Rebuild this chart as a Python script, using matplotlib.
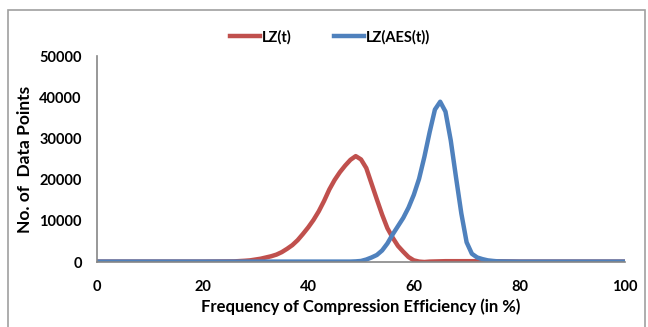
import numpy as np
import matplotlib.pyplot as plt
from matplotlib.patches import Rectangle

# data (percent, count)
x_red = [0, 10, 20, 26, 28, 29, 30, 31, 32, 33, 34, 35, 36, 37, 38, 39, 40, 41, 42, 43, 44, 45,
         46, 47, 48, 49, 50, 51, 52, 53, 54, 55, 56, 57, 58, 59, 60, 61, 62, 63, 66, 70, 75, 80,
         90, 100]
lz_t = [100, 100, 100, 150, 300, 400, 600, 800, 1100, 1400, 1800, 2400, 3200, 4100, 5300, 6800,
        8400, 10200, 12300, 14800, 17600, 19900, 21800, 23400, 24800, 25700, 24900, 22800, 19000,
        15200, 11500, 8200, 5900, 3900, 2500, 1200, 400, 100, 0, 100, 200, 200, 200, 100, 100, 100]

x_blue = [0, 10, 20, 30, 40, 46, 48, 49, 50, 51, 52, 53, 54, 55, 56, 57, 58, 59, 60, 61, 62, 63,
          64, 65, 66, 67, 68, 69, 70, 71, 72, 73, 74, 75, 76, 80, 90, 100]
lz_aes = [100, 100, 100, 100, 100, 100, 100, 150, 250, 600, 1100, 1700, 2800, 4500, 6700, 8700,
          10700, 13200, 16300, 20200, 25500, 31500, 37000, 38900, 36500, 29500, 20500, 11800,
          4800, 2000, 1100, 700, 400, 250, 150, 100, 100, 100]

red = '#C0504D'
blue = '#4F81BD'
plt.rcParams['font.family'] = ['Lato', 'DejaVu Sans']
plt.rcParams['font.weight'] = 'bold'

fig = plt.figure(figsize=(6.48, 3.27), dpi=100)
ax = fig.add_axes([97 / 648, 1 - 262 / 327, 528 / 648, 206 / 327])

ax.plot(x_red, lz_t, color=red, lw=3.2, label='LZ(t)', solid_joinstyle='round')
ax.plot(x_blue, lz_aes, color=blue, lw=3.2, label='LZ(AES(t))', solid_joinstyle='round')

ax.set_xlim(0, 100)
ax.set_ylim(0, 50000)
ax.set_xticks(range(0, 101, 20))
ax.set_yticks(range(0, 50001, 10000))
ax.tick_params(axis='x', length=0, pad=13, labelsize=10.5)
ax.tick_params(axis='y', length=0, pad=11, labelsize=10.5)
for s in ['top', 'right']:
    ax.spines[s].set_visible(False)
for s in ['left', 'bottom']:
    ax.spines[s].set_color('#868686')
    ax.spines[s].set_linewidth(1.2)

ax.set_xlabel('Frequency of Compression Efficiency (in %)', fontsize=12, fontweight='bold')
ax.xaxis.set_label_coords(0.5, -(298 - 262) / 206)
ax.set_ylabel('No. of  Data Points', fontsize=12.5, fontweight='bold')
ax.yaxis.set_label_coords(-(97 - 33) / 528, 0.5)

ax.legend(loc='center', bbox_to_anchor=(330 / 648, 1 - 37 / 327), bbox_transform=fig.transFigure,
          ncol=2, frameon=False, fontsize=10.5, handlelength=2.05, columnspacing=2.9,
          handletextpad=0.15)

# outer chart frame
fig.patches.append(Rectangle((8 / 648, -0.1), 637 / 648, 1 - 10 / 327 + 0.1,
                             transform=fig.transFigure, fill=False, edgecolor='#A0A0A0', lw=1.2))

fig.savefig('out.png', dpi=100)
